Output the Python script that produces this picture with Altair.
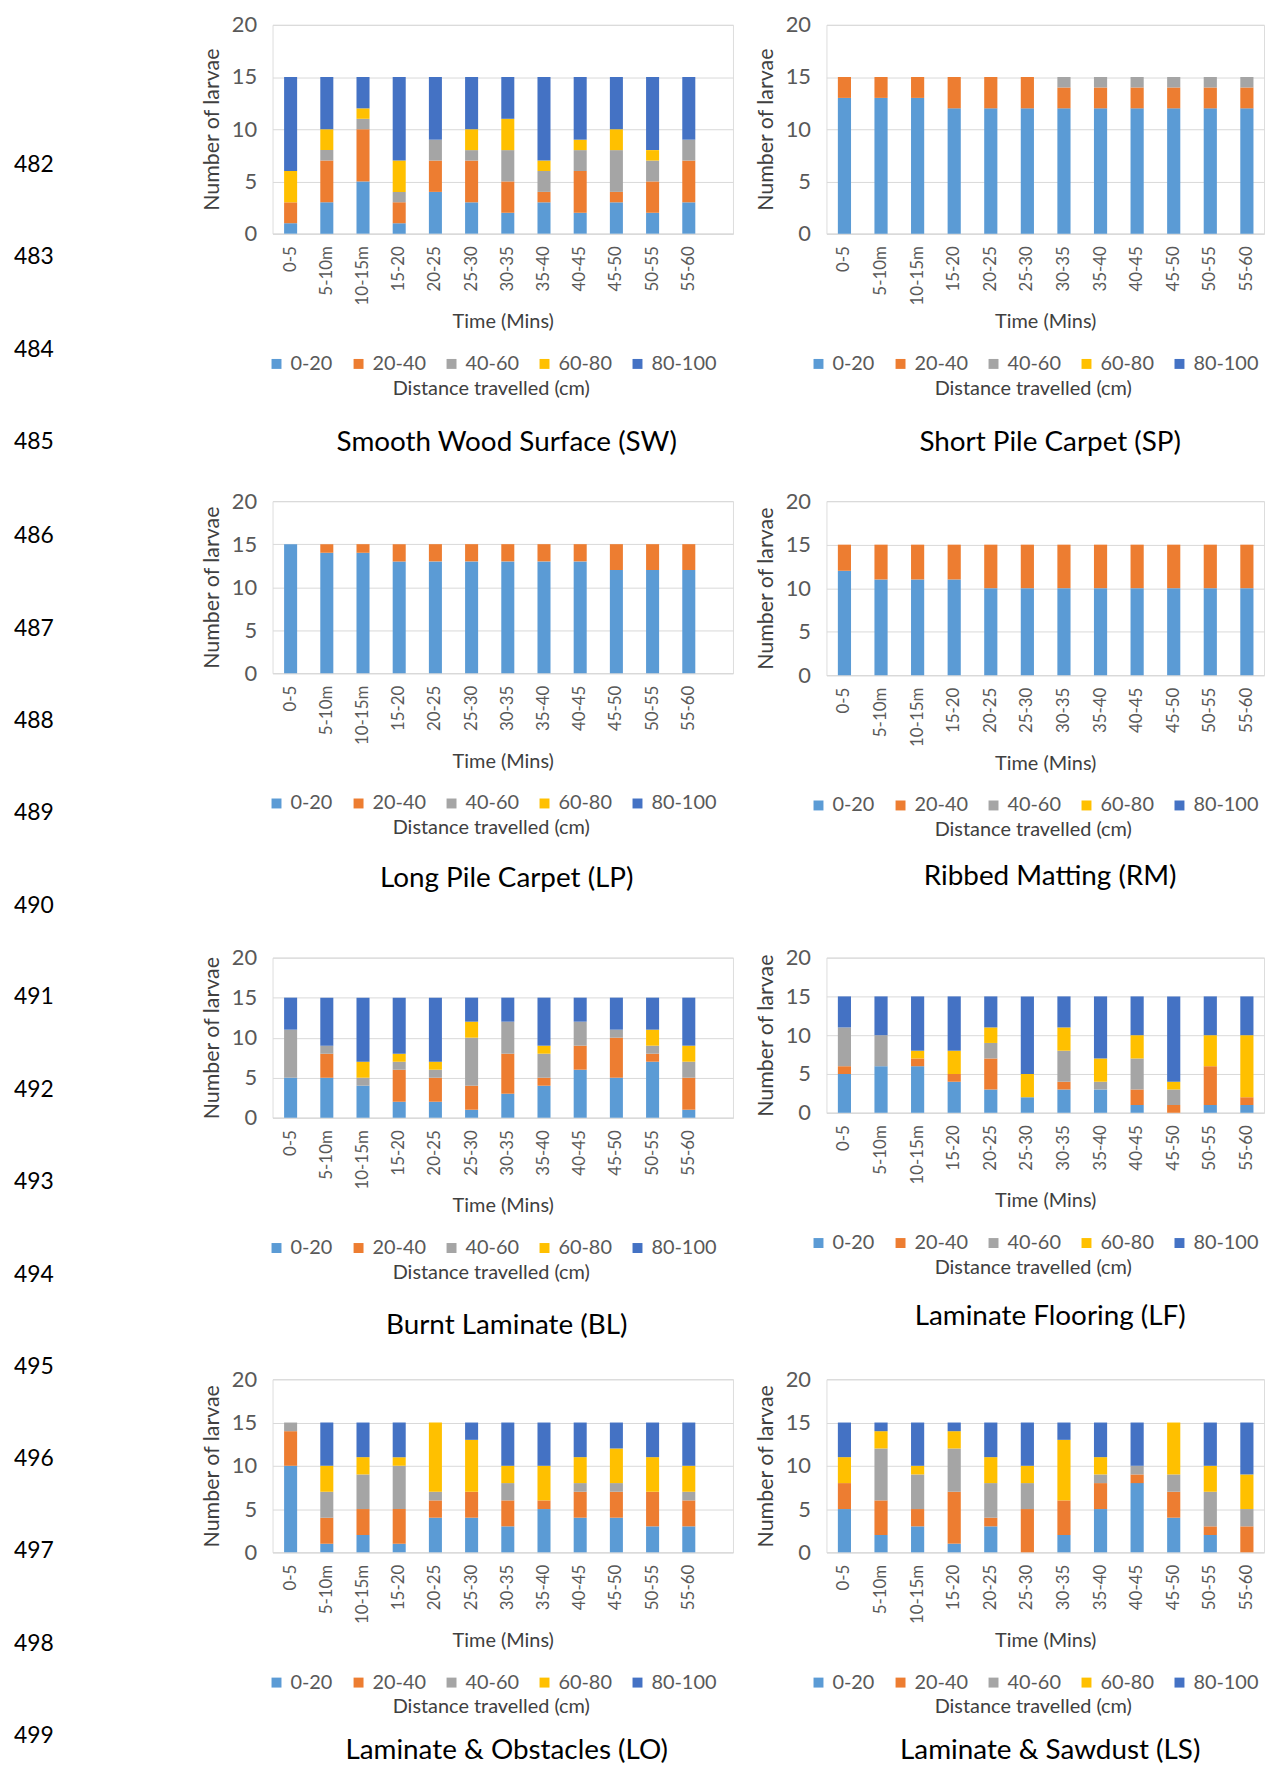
import altair as alt
import pandas as pd

TIME = ["0-5", "5-10m", "10-15m", "15-20", "20-25", "25-30",
        "30-35", "35-40", "40-45", "45-50", "50-55", "55-60"]
DIST = ["0-20", "20-40", "40-60", "60-80", "80-100"]
COLORS = ["#5B9BD5", "#ED7D31", "#A5A5A5", "#FFC000", "#4472C4"]
LINE_NUMS = [[482, 483, 484, 485], [486, 487, 488, 489, 490],
             [491, 492, 493, 494], [495, 496, 497, 498, 499]]

# each panel: counts per distance class (0-20, 20-40, 40-60, 60-80, 80-100) over the 12 time bins
SW = [[1, 3, 5, 1, 4, 3, 2, 3, 2, 3, 2, 3],
      [2, 4, 5, 2, 3, 4, 3, 1, 4, 1, 3, 4],
      [0, 1, 1, 1, 2, 1, 3, 2, 2, 4, 2, 2],
      [3, 2, 1, 3, 0, 2, 3, 1, 1, 2, 1, 0],
      [9, 5, 3, 8, 6, 5, 4, 8, 6, 5, 7, 6]]
SP = [[13, 13, 13, 12, 12, 12, 12, 12, 12, 12, 12, 12],
      [2, 2, 2, 3, 3, 3, 2, 2, 2, 2, 2, 2],
      [0, 0, 0, 0, 0, 0, 1, 1, 1, 1, 1, 1],
      [0, 0, 0, 0, 0, 0, 0, 0, 0, 0, 0, 0],
      [0, 0, 0, 0, 0, 0, 0, 0, 0, 0, 0, 0]]
LP = [[15, 14, 14, 13, 13, 13, 13, 13, 13, 12, 12, 12],
      [0, 1, 1, 2, 2, 2, 2, 2, 2, 3, 3, 3],
      [0, 0, 0, 0, 0, 0, 0, 0, 0, 0, 0, 0],
      [0, 0, 0, 0, 0, 0, 0, 0, 0, 0, 0, 0],
      [0, 0, 0, 0, 0, 0, 0, 0, 0, 0, 0, 0]]
RM = [[12, 11, 11, 11, 10, 10, 10, 10, 10, 10, 10, 10],
      [3, 4, 4, 4, 5, 5, 5, 5, 5, 5, 5, 5],
      [0, 0, 0, 0, 0, 0, 0, 0, 0, 0, 0, 0],
      [0, 0, 0, 0, 0, 0, 0, 0, 0, 0, 0, 0],
      [0, 0, 0, 0, 0, 0, 0, 0, 0, 0, 0, 0]]
BL = [[5, 5, 4, 2, 2, 1, 3, 4, 6, 5, 7, 1],
      [0, 3, 0, 4, 3, 3, 5, 1, 3, 5, 1, 4],
      [6, 1, 1, 1, 1, 6, 4, 3, 3, 1, 1, 2],
      [0, 0, 2, 1, 1, 2, 0, 1, 0, 0, 2, 2],
      [4, 6, 8, 7, 8, 3, 3, 6, 3, 4, 4, 6]]
LF = [[5, 6, 6, 4, 3, 2, 3, 3, 1, 0, 1, 1],
      [1, 0, 1, 1, 4, 0, 1, 0, 2, 1, 5, 1],
      [5, 4, 0, 0, 2, 0, 4, 1, 4, 2, 0, 0],
      [0, 0, 1, 3, 2, 3, 3, 3, 3, 1, 4, 8],
      [4, 5, 7, 7, 4, 10, 4, 8, 5, 11, 5, 5]]
LO = [[10, 1, 2, 1, 4, 4, 3, 5, 4, 4, 3, 3],
      [4, 3, 3, 4, 2, 3, 3, 1, 3, 3, 4, 3],
      [1, 3, 4, 5, 1, 0, 2, 0, 1, 1, 0, 1],
      [0, 3, 2, 1, 8, 6, 2, 4, 3, 4, 4, 3],
      [0, 5, 4, 4, 0, 2, 5, 5, 4, 3, 4, 5]]
LS = [[5, 2, 3, 1, 3, 0, 2, 5, 8, 4, 2, 0],
      [3, 4, 2, 6, 1, 5, 4, 3, 1, 3, 1, 3],
      [0, 6, 4, 5, 4, 3, 0, 1, 1, 2, 4, 2],
      [3, 2, 1, 2, 3, 2, 7, 2, 0, 6, 3, 4],
      [4, 1, 5, 1, 4, 5, 2, 4, 5, 0, 5, 6]]

TITLES = ["Smooth Wood Surface (SW)", "Short Pile Carpet (SP)",
          "Long Pile Carpet (LP)", "Ribbed Matting (RM)",
          "Burnt Laminate (BL)", "Laminate Flooring (LF)",
          "Laminate & Obstacles (LO)", "Laminate & Sawdust (LS)"]
SERIES = [SW, SP, LP, RM, BL, LF, LO, LS]

# layout (pixels)
LEFT = dict(width=463, pad_outer=0.68, align=0.235, legend_x=-6, title_dx=4)
RIGHT = dict(width=440, pad_outer=0.30, align=0.52, legend_x=-18, title_dx=5)
HEIGHTS = [210, 210, 173, 175, 161, 156, 174, 174]
TITLE_OFFSETS = [31, 31, 27, 23, 29, 25, 20, 20]
LINE_REF_TOPS = [18.3, 495.5, 955.5, 1380]   # row tops used to place the line numbers
LINE_CELL_H = [215.5, 195.5, 161, 174]       # line-number cells set each row's height
ROW_GAP = 263
COL_GAP = 94
LINE_CELL_W = 172
FIRST_LINE_Y = 159
LINE_PITCH = 92.94

FONT = "Lato"
GREY = "#595959"


def panel(title, series, h, side, toff):
    rows = []
    for k, (d, vals) in enumerate(zip(DIST, series)):
        for t, v in zip(TIME, vals):
            if v > 0:
                rows.append({"time": t, "dist": d, "k": k, "n": v})
    df = pd.DataFrame(rows)
    return alt.Chart(df).mark_bar().encode(
        x=alt.X("time:N", sort=TIME, title="Time (Mins)",
                scale=alt.Scale(domain=TIME, paddingInner=0.64,
                                paddingOuter=side["pad_outer"], align=side["align"]),
                axis=alt.Axis(labelAngle=270, labelFont=FONT, labelFontSize=17,
                              labelColor=GREY, labelPadding=12, ticks=False,
                              domainColor="#D9D9D9", titleFont=FONT,
                              titleFontSize=20, titleFontWeight="normal",
                              titleColor="#404040", titlePadding=7)),
        y=alt.Y("n:Q", stack="zero", title="Number of larvae",
                scale=alt.Scale(domain=[0, 20], nice=False),
                axis=alt.Axis(values=[0, 5, 10, 15, 20], labelFont=FONT,
                              labelFontSize=22, labelColor=GREY, labelPadding=16,
                              labelFlush=False, ticks=False, domain=False,
                              gridColor="#D9D9D9", titleFont=FONT,
                              titleFontSize=21.5, titleFontWeight="normal",
                              titleColor="#404040", titlePadding=8)),
        color=alt.Color("dist:N",
                        scale=alt.Scale(domain=DIST, range=COLORS),
                        legend=alt.Legend(orient="none", direction="horizontal",
                                          legendX=side["legend_x"],
                                          legendY=h + 121,
                                          title="Distance travelled (cm)",
                                          titleOrient="bottom", titleAnchor="middle",
                                          titleFont=FONT, titleFontSize=20,
                                          titleFontWeight="normal", titleColor="#404040",
                                          titlePadding=5, titleLimit=500,
                                          labelFont=FONT, labelFontSize=20,
                                          labelColor=GREY, symbolType="square",
                                          symbolSize=100, symbolStrokeWidth=0,
                                          columnPadding=15.5, labelOffset=4)),
        order=alt.Order("k:Q", sort="ascending"),
    ).properties(
        width=side["width"], height=h,
        title=alt.TitleParams(title, orient="bottom", anchor="middle", frame="group",
                              font=FONT, fontSize=28, fontWeight="normal",
                              color="black", offset=toff, dx=side["title_dx"]),
    )


def line_cell(nums, top, h):
    lo = 482 + (top - FIRST_LINE_Y) / LINE_PITCH
    hi = lo + h / LINE_PITCH
    df = pd.DataFrame({"ln": nums, "label": [str(v) for v in nums]})
    return alt.Chart(df).mark_text(align="left", baseline="middle", font=FONT,
                                   fontSize=23, color="black").encode(
        x=alt.value(6),
        y=alt.Y("ln:Q", scale=alt.Scale(domain=[lo, hi], reverse=True,
                                        nice=False, zero=False), axis=None),
        text="label:N",
    ).properties(width=LINE_CELL_W, height=h,
                 view=alt.ViewBackground(stroke="transparent", strokeWidth=0))


cells = []
for r in range(4):
    cells.append(line_cell(LINE_NUMS[r], LINE_REF_TOPS[r], LINE_CELL_H[r]))
    for c in range(2):
        i = 2 * r + c
        cells.append(panel(TITLES[i], SERIES[i], HEIGHTS[i],
                           LEFT if c == 0 else RIGHT, TITLE_OFFSETS[i]))

chart = alt.concat(*cells, columns=3, spacing={"row": ROW_GAP, "column": COL_GAP},
                   bounds="flush", align="each").resolve_scale(
    color="independent").resolve_legend(color="independent").properties(
    padding=0).configure_view(stroke="transparent", strokeWidth=0).configure(
    background="white")

chart.save("out.html", embed_options={"renderer": "svg", "actions": False})
